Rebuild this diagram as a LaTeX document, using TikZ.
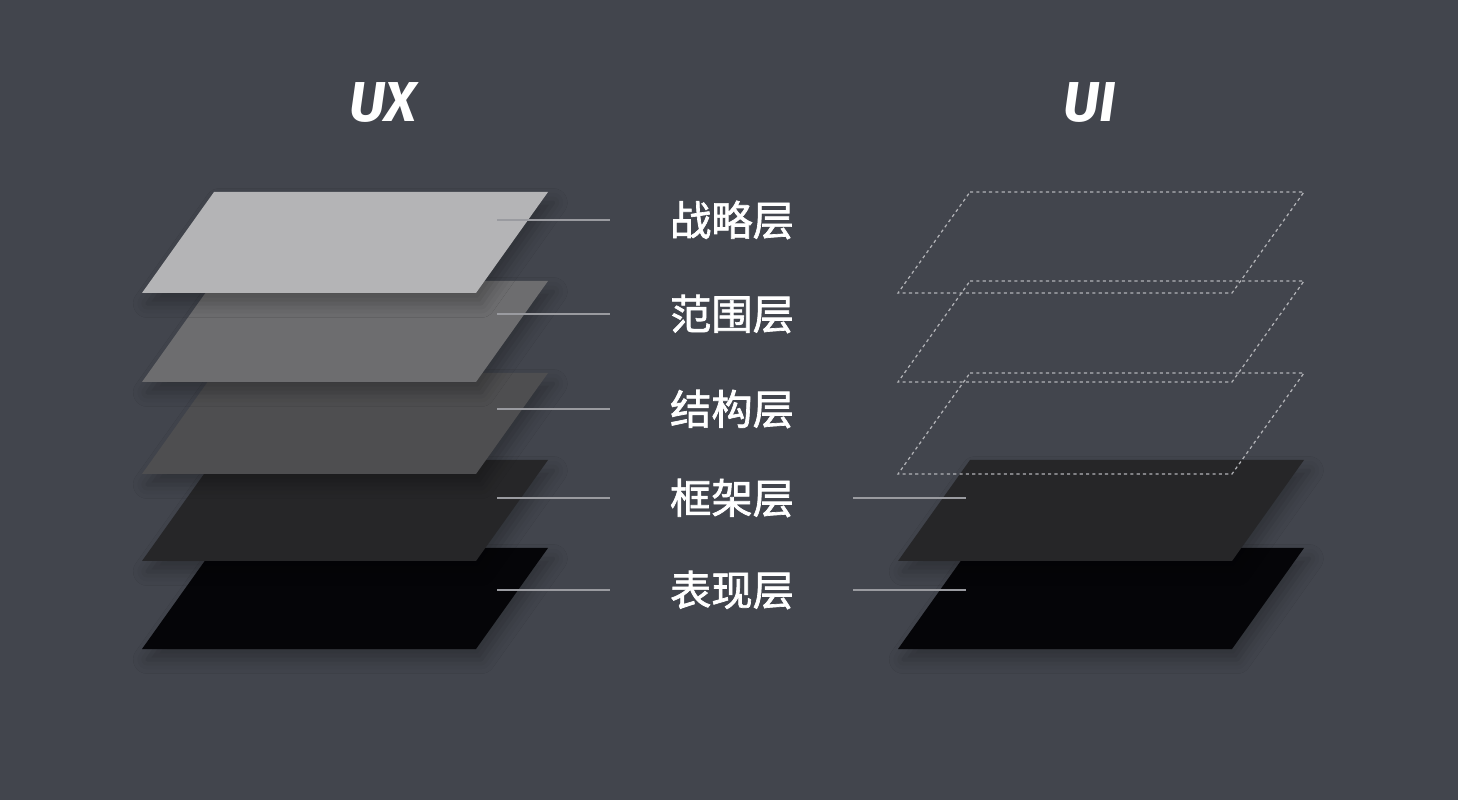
\documentclass[tikz,border=0pt]{standalone}
\usepackage{fontspec}
\setmainfont{Fira Sans}
\newfontfamily\cjk[FakeBold=1.6]{Noto Sans CJK SC}
\usetikzlibrary{shadows.blur}
\definecolor{bgcol}{HTML}{42454D}
\definecolor{lay1}{HTML}{B4B4B6}
\definecolor{lay2}{HTML}{6D6D6F}
\definecolor{lay3}{HTML}{4E4E50}
\definecolor{lay4}{HTML}{262628}
\definecolor{lay5}{HTML}{050508}
\definecolor{dashcol}{HTML}{B2B3B7}
\definecolor{leadcol}{HTML}{9A9BA0}

\begin{document}
\begin{tikzpicture}
  [x=0.02cm,y=-0.02cm,
   every node/.style={text=white,inner sep=0pt},
   layer/.style={blur shadow={shadow xshift=3pt,shadow yshift=-6pt,shadow opacity=28,shadow blur radius=8pt}},
   ghost/.style={draw=dashcol,line width=0.7pt,dash pattern=on 1.8pt off 1.8pt},
   lead/.style={draw=leadcol,line width=0.6pt},
   title/.style={font=\fontsize{32}{36}\selectfont\bfseries\itshape},
   label/.style={font=\cjk\fontsize{23.5}{28}\selectfont}]
  \fill[bgcol] (0,0) rectangle (1458,800);
  \useasboundingbox (0,0) rectangle (1458,800);

  % titles
  \node[title] (ux) at (383,103) {UX};
  \node[title] (ui) at (1090,103) {UI};

  % UX stack, bottom first
  \path[layer,fill=lay5] (214,548) -- ++(334,0) -- ++(-72,101) -- ++(-334,0) -- cycle;
  \path[layer,fill=lay4] (214,460) -- ++(334,0) -- ++(-72,101) -- ++(-334,0) -- cycle;
  \path[layer,fill=lay3] (214,373) -- ++(334,0) -- ++(-72,101) -- ++(-334,0) -- cycle;
  \path[layer,fill=lay2] (214,281) -- ++(334,0) -- ++(-72,101) -- ++(-334,0) -- cycle;
  \path[layer,fill=lay1] (214,192) -- ++(334,0) -- ++(-72,101) -- ++(-334,0) -- cycle;

  % UI stack
  \path[layer,fill=lay5] (970,548) -- ++(334,0) -- ++(-72,101) -- ++(-334,0) -- cycle;
  \path[layer,fill=lay4] (970,460) -- ++(334,0) -- ++(-72,101) -- ++(-334,0) -- cycle;
  \draw[ghost] (970,373) -- ++(334,0) -- ++(-72,101) -- ++(-334,0) -- cycle;
  \draw[ghost] (970,281) -- ++(334,0) -- ++(-72,101) -- ++(-334,0) -- cycle;
  \draw[ghost] (970,192) -- ++(334,0) -- ++(-72,101) -- ++(-334,0) -- cycle;

  % layer names
  \node[label] (L1) at (732,220) {战略层};
  \node[label] (L2) at (732,314) {范围层};
  \node[label] (L3) at (732,409) {结构层};
  \node[label] (L4) at (732,498) {框架层};
  \node[label] (L5) at (732,590) {表现层};

  % leader lines
  \coordinate (a1) at (497,220); \coordinate (b1) at (610,220);
  \coordinate (a2) at (497,314); \coordinate (b2) at (610,314);
  \coordinate (a3) at (497,409); \coordinate (b3) at (610,409);
  \coordinate (a4) at (497,498); \coordinate (b4) at (610,498);
  \coordinate (a5) at (497,590); \coordinate (b5) at (610,590);
  \coordinate (c4) at (853,498); \coordinate (d4) at (966,498);
  \coordinate (c5) at (853,590); \coordinate (d5) at (966,590);
  \draw[lead] (a1) -- (b1);
  \draw[lead] (a2) -- (b2);
  \draw[lead] (a3) -- (b3);
  \draw[lead] (a4) -- (b4);
  \draw[lead] (a5) -- (b5);
  \draw[lead] (c4) -- (d4);
  \draw[lead] (c5) -- (d5);
\end{tikzpicture}
\end{document}
